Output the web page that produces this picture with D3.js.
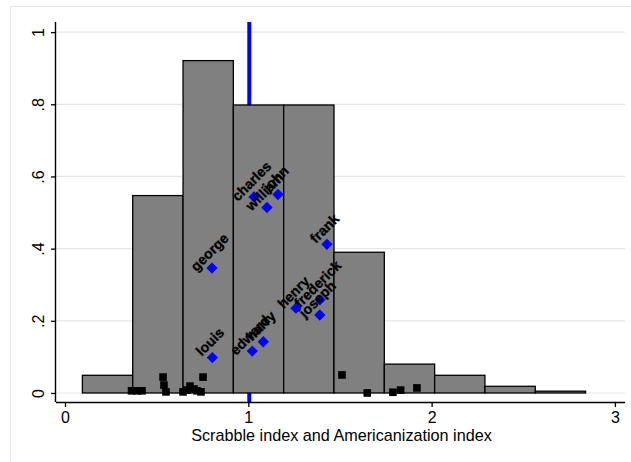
<!DOCTYPE html>
<html>
<head>
<meta charset="utf-8">
<script src="https://cdn.jsdelivr.net/npm/d3@7"></script>
<style>
  html, body { margin: 0; padding: 0; background: #ffffff; }
  svg { display: block; font-family: "Liberation Sans", Arial, Helvetica, sans-serif; }
</style>
</head>
<body>
<svg id="chart" width="631" height="462"></svg>
<script>
// ---- data ----
const binStart = 0.095;
const binWidth = 0.2745;
const binDensity = [0.049, 0.547, 0.921, 0.798, 0.798, 0.390, 0.080, 0.049, 0.0185, 0.005];

const americanNames = ["charles", "william", "john", "george", "frank", "louis", "edward", "harry", "henry", "frederick", "joseph"];
const americanX = [1.031, 1.102, 1.162, 0.802, 1.429, 0.804, 1.022, 1.082, 1.260, 1.391, 1.390];
const americanY = [0.543, 0.514, 0.550, 0.346, 0.412, 0.098, 0.116, 0.142, 0.235, 0.258, 0.216];

const otherX = [0.363, 0.393, 0.420, 0.535, 0.540, 0.551, 0.644, 0.666, 0.682, 0.704, 0.720, 0.742, 0.753, 1.511, 1.649, 1.789, 1.831, 1.920];
const otherY = [0.006, 0.006, 0.006, 0.044, 0.022, 0.003, 0.003, 0.008, 0.019, 0.011, 0.006, 0.003, 0.044, 0.050, 0.000, 0.002, 0.008, 0.014];

const refLineX = 1;
const xTicks = [0, 1, 2, 3];
const yTicks = [0, 0.2, 0.4, 0.6, 0.8, 1];
const yTickLabels = ["0", ".2", ".4", ".6", ".8", "1"];
const xTitle = "Scrabble index and Americanization index";

// ---- layout ----
const svg = d3.select("#chart");
const plotLeft = 56, plotRight = 625, plotTop = 22, plotBottom = 402;

const x = d3.scaleLinear().domain([-0.049, 3.055]).range([plotLeft, plotRight]);
const y = d3.scaleLinear().domain([-0.025, 1.028]).range([plotBottom, plotTop]);

// outer frame
svg.append("rect").attr("x", 10.5).attr("y", 6.5).attr("width", 640).attr("height", 470)
  .attr("fill", "#ffffff").attr("stroke", "#e8e8e8").attr("stroke-width", 1);

// gridlines
svg.append("g").selectAll("line").data(yTicks).join("line")
  .attr("x1", plotLeft).attr("x2", plotRight)
  .attr("y1", d => y(d)).attr("y2", d => y(d))
  .attr("stroke", "#e6e6e6").attr("stroke-width", 1.2);

// reference line
svg.append("line")
  .attr("x1", x(refLineX) + 1).attr("x2", x(refLineX) + 1)
  .attr("y1", plotTop).attr("y2", plotBottom)
  .attr("stroke", "#0000ff").attr("stroke-width", 4);

// histogram bars
const bins = binDensity.map((d, i) => ({ x0: binStart + i * binWidth, x1: binStart + (i + 1) * binWidth, h: d }));
svg.append("g").selectAll("rect").data(bins).join("rect")
  .attr("x", d => x(d.x0)).attr("width", d => x(d.x1) - x(d.x0))
  .attr("y", d => y(d.h)).attr("height", d => y(0) - y(d.h))
  .attr("fill", "#808080").attr("stroke", "#000000").attr("stroke-width", 1.3);

// black squares
const sq = d3.symbol().type(d3.symbolSquare).size(58);
svg.append("g").selectAll("path").data(otherX.map((d, i) => [d, otherY[i]])).join("path")
  .attr("d", sq)
  .attr("transform", d => `translate(${x(d[0])},${y(d[1])})`)
  .attr("fill", "#000000");

// blue diamonds
const dm = d3.symbol().type(d3.symbolSquare).size(64);
const amer = americanNames.map((n, i) => ({ n, vx: americanX[i], vy: americanY[i] }));
svg.append("g").selectAll("path").data(amer).join("path")
  .attr("d", dm)
  .attr("transform", d => `translate(${x(d.vx)},${y(d.vy)}) rotate(45)`)
  .attr("fill", "#0000ff");

// labels
svg.append("g").selectAll("text").data(amer).join("text")
  .attr("transform", d => `translate(${x(d.vx) - 2.5},${y(d.vy) - 16}) rotate(-45)`)
  .attr("text-anchor", "middle").attr("dominant-baseline", "central")
  .attr("font-size", 14).attr("font-weight", "bold").attr("fill", "#000000")
  .attr("stroke", "#000000").attr("stroke-width", 0.35)
  .text(d => d.n);

// axes
const xAxis = d3.axisBottom(x).tickValues(xTicks).tickFormat(d3.format("d")).tickSize(5).tickPadding(5);
const gx = svg.append("g").attr("transform", `translate(0,${plotBottom})`).call(xAxis);
gx.select(".domain").attr("d", `M${plotLeft},0.5H${plotRight}`).attr("stroke-width", 1.4);
gx.selectAll(".tick line").attr("stroke-width", 1.3);
gx.selectAll("text").attr("font-size", 16).attr("font-family", "Liberation Sans, Arial, sans-serif").attr("fill", "#000");

const yAxis = d3.axisLeft(y).tickValues(yTicks).tickFormat((d, i) => yTickLabels[i]).tickSize(5);
const gy = svg.append("g").attr("transform", `translate(${plotLeft},0)`).call(yAxis);
gy.select(".domain").attr("d", `M-0.5,${plotTop}V${plotBottom}`).attr("stroke-width", 1.4);
gy.selectAll(".tick line").attr("stroke-width", 1.3);
gy.selectAll("text")
  .attr("x", null).attr("dy", null)
  .attr("transform", "translate(-12,0) rotate(-90)")
  .attr("text-anchor", "middle")
  .attr("y", 0)
  .attr("font-size", 16).attr("font-family", "Liberation Sans, Arial, sans-serif").attr("fill", "#000");

// title
svg.append("text")
  .attr("x", (plotLeft + plotRight) / 2 + 1).attr("y", 441)
  .attr("text-anchor", "middle").attr("font-size", 16.2).attr("fill", "#000")
  .text(xTitle);
</script>
</body>
</html>
